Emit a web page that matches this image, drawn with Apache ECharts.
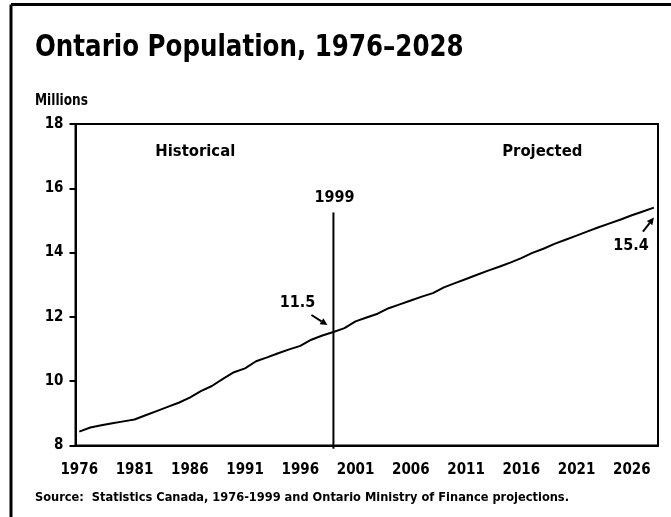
<!DOCTYPE html>
<html>
<head>
<meta charset="utf-8">
<script src="https://cdn.jsdelivr.net/npm/echarts@6/dist/echarts.min.js"></script>
<style>
    html, body { margin: 0; padding: 0; background: #fff; }
    #chart { width: 671px; height: 517px; }
</style>
</head>
<body>
<div id="chart"></div>
<script>
var FONT = '"Liberation Sans Narrow", "DejaVu Sans Condensed", "Arial Narrow", sans-serif';

// data (millions)
var years = [1976, 1977, 1978, 1979, 1980, 1981, 1982, 1983, 1984, 1985,
    1986, 1987, 1988, 1989, 1990, 1991, 1992, 1993, 1994, 1995,
    1996, 1997, 1998, 1999, 2000, 2001, 2002, 2003, 2004, 2005,
    2006, 2007, 2008, 2009, 2010, 2011, 2012, 2013, 2014, 2015,
    2016, 2017, 2018, 2019, 2020, 2021, 2022, 2023, 2024, 2025,
    2026, 2027, 2028];
var population = [8.43, 8.56, 8.63, 8.69, 8.75, 8.81, 8.94, 9.07, 9.20, 9.33,
    9.49, 9.69, 9.85, 10.07, 10.28, 10.40, 10.62, 10.74, 10.87, 10.99,
    11.10, 11.29, 11.42, 11.53, 11.65, 11.86, 11.98, 12.10, 12.27, 12.39,
    12.51, 12.63, 12.74, 12.92, 13.05, 13.18, 13.31, 13.44, 13.56, 13.69,
    13.83, 13.99, 14.12, 14.27, 14.40, 14.53, 14.66, 14.79, 14.91, 15.03,
    15.16, 15.28, 15.40];
var xTickLabels = [1976, 1981, 1986, 1991, 1996, 2001, 2006, 2011, 2016, 2021, 2026];
var yMin = 8, yMax = 18, yStep = 2;

var splitYear = 1999;
var splitTop = 15.25;
var startLabel = '11.5';
var endLabel = '15.4';

var chart = echarts.init(document.getElementById('chart'));

var lineData = [];
for (var i = 0; i < years.length; i++) {
    lineData.push([years[i], population[i]]);
}

var option = {
    animation: false,
    backgroundColor: '#fff',
    textStyle: { fontFamily: FONT },
    grid: {
        left: 75.5,
        right: 13,
        top: 124,
        bottom: 71.5,
        show: true,
        borderColor: '#000',
        borderWidth: 2
    },
    xAxis: {
        type: 'value',
        min: 1975.66,
        max: 2028.37,
        splitLine: { show: false },
        axisTick: { show: false },
        axisLine: { show: true, lineStyle: { color: '#000', width: 2 } },
        axisLabel: {
            customValues: xTickLabels,
            color: '#000',
            fontFamily: FONT,
            fontWeight: 'bold',
            fontSize: 15,
            margin: 17,
            formatter: function (v) {
                return String(v);
            }
        }
    },
    yAxis: {
        type: 'value',
        min: yMin,
        max: yMax,
        interval: yStep,
        splitLine: { show: false },
        axisLine: { show: true, lineStyle: { color: '#000', width: 2 } },
        axisTick: { show: true, length: 6, lineStyle: { color: '#000', width: 2 } },
        axisLabel: {
            color: '#000',
            fontFamily: FONT,
            fontWeight: 'bold',
            fontSize: 15,
            margin: 12
        }
    },
    series: [
        {
            name: 'population',
            type: 'line',
            symbol: 'none',
            lineStyle: { color: '#000', width: 2 },
            data: lineData
        },
        {
            // historical / projected divider
            name: 'split',
            type: 'line',
            symbol: 'none',
            clip: false,
            lineStyle: { color: '#000', width: 2 },
            data: [[splitYear, yMin - 0.1], [splitYear, splitTop]]
        }
    ]
};
chart.setOption(option);

function px(x, y) {
    return chart.convertToPixel({ gridIndex: 0 }, [x, y]);
}

function arrow(tail, tip) {
    var dx = tip[0] - tail[0], dy = tip[1] - tail[1];
    var len = Math.sqrt(dx * dx + dy * dy);
    var ux = dx / len, uy = dy / len;
    var hl = 7, hw = 3.5;
    var bx = tip[0] - ux * hl, by = tip[1] - uy * hl;
    return [
        {
            type: 'line',
            shape: { x1: tail[0], y1: tail[1], x2: bx, y2: by },
            style: { stroke: '#000', lineWidth: 2 }
        },
        {
            type: 'polygon',
            shape: { points: [tip, [bx - uy * hw, by + ux * hw], [bx + uy * hw, by - ux * hw]] },
            style: { fill: '#000' }
        }
    ];
}

function label(text, p, size) {
    return {
        type: 'text',
        x: p[0], y: p[1],
        style: {
            text: text, fill: '#000', font: 'bold ' + size + 'px ' + FONT,
            align: 'center', verticalAlign: 'middle'
        }
    };
}

var pStart = px(splitYear, population[years.indexOf(splitYear)]);
var pEnd = px(years[years.length - 1], population[population.length - 1]);
var pSplit = px(splitYear, splitTop);

var graphics = [
    // frame
    { type: 'line', shape: { x1: 11, y1: 4.5, x2: 671, y2: 4.5 }, style: { stroke: '#000', lineWidth: 3 } },
    { type: 'line', shape: { x1: 11, y1: 4.5, x2: 11, y2: 517 }, style: { stroke: '#000', lineWidth: 3 } },
    {
        type: 'text', x: 35, y: 48, scaleX: 0.88,
        style: { text: 'Ontario Population, 1976\u20132028', fill: '#000', font: 'bold 31px ' + FONT, verticalAlign: 'middle' }
    },
    {
        type: 'text', x: 35, y: 101, scaleX: 0.9,
        style: { text: 'Millions', fill: '#000', font: 'bold 15px ' + FONT, verticalAlign: 'middle' }
    },
    {
        type: 'text', x: 35, y: 498,
        style: { text: 'Source:  Statistics Canada, 1976-1999 and Ontario Ministry of Finance projections.', fill: '#000', font: 'bold 12.7px ' + FONT, verticalAlign: 'middle' }
    },
    label('Historical', px(1986.5, 17.15), 16.5),
    label('Projected', px(2017.9, 17.15), 16.5),
    label(String(splitYear), [pSplit[0] + 1, pSplit[1] - 15], 16),
    label(startLabel, [pStart[0] - 36, pStart[1] - 29], 16),
    label(endLabel, [pEnd[0] - 23, pEnd[1] + 38], 16)
];
graphics = graphics.concat(arrow([pStart[0] - 22, pStart[1] - 17], [pStart[0] - 6, pStart[1] - 7]));
graphics = graphics.concat(arrow([pEnd[0] - 11, pEnd[1] + 24], [pEnd[0], pEnd[1] + 10]));

chart.setOption({ graphic: graphics });
</script>
</body>
</html>
